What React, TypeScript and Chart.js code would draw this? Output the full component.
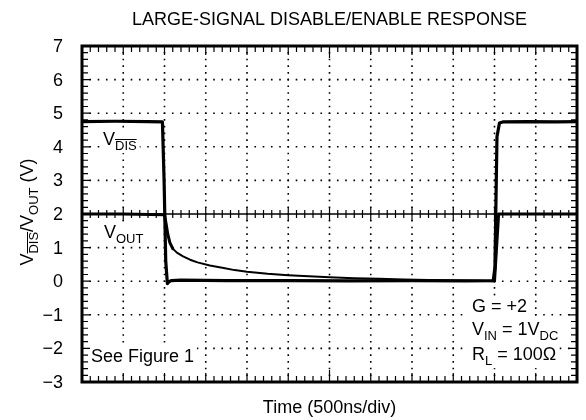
import React, { useEffect, useRef } from 'react';
import { Chart, registerables } from 'chart.js';

Chart.register(...registerables);

const TITLE = 'LARGE-SIGNAL DISABLE/ENABLE RESPONSE';
const X_LABEL = 'Time (500ns/div)';
const Y_TICK_VALUES = [7, 6, 5, 4, 3, 2, 1, 0, -1, -2, -3];
const Y_TICK_LABELS = ['7', '6', '5', '4', '3', '2', '1', '0', '\u22121', '\u22122', '\u22123'];
const X_DIVISIONS = [0, 1, 2, 3, 4, 5, 6, 7, 8, 9, 10, 11, 12];
const X_MIN = 0;
const X_MAX = 12;
const Y_MIN = -3;
const Y_MAX = 7;
const CENTER_Y = 2;
const CENTER_X = 6;

// V_DIS trace (time in divisions, volts)
const vdisTime = [0, 0.8, 1.6, 1.95, 1.99, 2.03, 2.07, 2.1, 2.16, 2.4, 3.5, 5, 6.5, 8, 9.3, 9.97, 10.01, 10.06, 10.12, 10.2, 10.8, 11.5, 12];
const vdisVolts = [4.75, 4.76, 4.75, 4.74, 3.0, 0.6, -0.07, -0.03, 0.02, 0.03, 0.02, 0.02, 0.01, 0.02, 0.01, 0.02, 0.4, 4.3, 4.71, 4.74, 4.75, 4.74, 4.75];

// V_OUT trace (time in divisions, volts)
const voutTime = [0, 1.0, 2.0, 2.04, 2.08, 2.13, 2.2, 2.3, 2.45, 2.62, 2.8, 3.1, 3.4, 3.7, 4.0, 4.5, 5.0, 5.5, 6.0, 6.6, 7.2, 7.8, 8.4, 9.0, 9.6, 10.0, 10.05, 10.1, 11, 12];
const voutVolts = [2.0, 2.0, 1.98, 1.7, 1.4, 1.15, 0.97, 0.85, 0.74, 0.64, 0.56, 0.47, 0.4, 0.33, 0.28, 0.22, 0.18, 0.15, 0.12, 0.09, 0.07, 0.05, 0.035, 0.02, 0.01, 0.0, 1.0, 2.0, 2.0, 2.0];

const FONT = '"Liberation Sans", Arial, Helvetica, sans-serif';
const FS = 18;

type Seg = { t: string; sub?: boolean; over?: boolean };

function drawRich(ctx: CanvasRenderingContext2D, segs: Seg[], x: number, y: number, size: number, align: 'left' | 'center', bg = false) {
  const subSize = Math.round(size * 0.72);
  let total = 0;
  for (const s of segs) {
    ctx.font = `${s.sub ? subSize : size}px ${FONT}`;
    total += ctx.measureText(s.t).width;
  }
  let cx = align === 'center' ? x - total / 2 : x;
  if (bg) {
    ctx.save();
    ctx.fillStyle = '#fff';
    ctx.fillRect(cx - 3, y - size * 0.9, total + 6, size * 1.35);
    ctx.restore();
  }
  ctx.textAlign = 'left';
  ctx.textBaseline = 'alphabetic';
  for (const s of segs) {
    const sz = s.sub ? subSize : size;
    ctx.font = `${sz}px ${FONT}`;
    const yy = s.sub ? y + size * 0.28 : y;
    ctx.fillText(s.t, cx, yy);
    const w = ctx.measureText(s.t).width;
    if (s.over) {
      ctx.save();
      ctx.lineWidth = 1;
      ctx.beginPath();
      const oy = Math.round(yy - sz * 0.86) + 0.5;
      ctx.moveTo(cx, oy);
      ctx.lineTo(cx + w, oy);
      ctx.stroke();
      ctx.restore();
    }
    cx += w;
  }
}

const graticule = {
  id: 'graticule',
  beforeDatasetsDraw(chart: any) {
    const ctx: CanvasRenderingContext2D = chart.ctx;
    const xs = chart.scales.x;
    const ys = chart.scales.y;
    const { left, right, top, bottom } = chart.chartArea;
    const divW = xs.getPixelForValue(1) - xs.getPixelForValue(0);
    const divH = ys.getPixelForValue(0) - ys.getPixelForValue(1);
    ctx.save();
    ctx.strokeStyle = '#000';
    ctx.lineWidth = 1.6;
    const hStep = divW / 5;
    ctx.setLineDash([1.6, hStep - 1.6]);
    for (const v of Y_TICK_VALUES) {
      if (v === Y_MIN || v === Y_MAX || v === CENTER_Y) continue;
      const py = ys.getPixelForValue(v);
      ctx.beginPath();
      ctx.moveTo(left - 0.8, py);
      ctx.lineTo(right, py);
      ctx.stroke();
    }
    const vStep = divH / 5;
    ctx.setLineDash([1.6, vStep - 1.6]);
    for (const d of X_DIVISIONS) {
      if (d === X_MIN || d === X_MAX) continue;
      const px = xs.getPixelForValue(d);
      ctx.beginPath();
      ctx.moveTo(px, top - 0.8);
      ctx.lineTo(px, bottom);
      ctx.stroke();
    }
    ctx.setLineDash([]);
    const cy = ys.getPixelForValue(CENTER_Y);
    ctx.lineWidth = 1.5;
    ctx.beginPath();
    ctx.moveTo(left, cy);
    ctx.lineTo(right, cy);
    ctx.stroke();
    ctx.lineWidth = 1.2;
    for (let i = 0; i <= (X_MAX - X_MIN) * 5; i++) {
      const px = xs.getPixelForValue(X_MIN + i / 5);
      const major = i % 5 === 0;
      const len = major ? 7 : 4;
      ctx.beginPath();
      ctx.moveTo(px, cy - len);
      ctx.lineTo(px, cy + len);
      ctx.stroke();
    }
    ctx.restore();
  },
  afterDatasetsDraw(chart: any) {
    const ctx: CanvasRenderingContext2D = chart.ctx;
    const xs = chart.scales.x;
    const ys = chart.scales.y;
    const { left, right, top, bottom } = chart.chartArea;
    ctx.save();
    ctx.strokeStyle = '#000';
    ctx.fillStyle = '#000';

    // annotations (with white background, drawn before frame ticks)
    drawRich(ctx, [{ t: 'V' }, { t: 'DIS', sub: true, over: true }], 103, 145, FS, 'left', true);
    drawRich(ctx, [{ t: 'V' }, { t: 'OUT', sub: true }], 104, 238, FS, 'left', true);
    drawRich(ctx, [{ t: 'See Figure 1' }], 91, 362, FS, 'left', true);
    drawRich(ctx, [{ t: 'G = +2' }], 472, 312, FS, 'left', true);
    drawRich(ctx, [{ t: 'V' }, { t: 'IN', sub: true }, { t: ' = 1V' }, { t: 'DC', sub: true }], 472, 335, FS, 'left', true);
    drawRich(ctx, [{ t: 'R' }, { t: 'L', sub: true }, { t: ' = 100\u03A9' }], 472, 360, FS, 'left', true);

    // frame ticks
    ctx.lineWidth = 1.2;
    for (let i = 1; i < (X_MAX - X_MIN) * 5; i++) {
      const v = X_MIN + i / 5;
      const px = xs.getPixelForValue(v);
      const major = i % 5 === 0;
      const len = Math.abs(v - CENTER_X) < 1e-6 ? 12 : major ? 9 : 6;
      ctx.beginPath();
      ctx.moveTo(px, top);
      ctx.lineTo(px, top + len);
      ctx.moveTo(px, bottom);
      ctx.lineTo(px, bottom - len);
      ctx.stroke();
    }
    for (let i = 1; i < (Y_MAX - Y_MIN) * 5; i++) {
      const v = Y_MIN + i / 5;
      const py = ys.getPixelForValue(v);
      const major = i % 5 === 0;
      const len = Math.abs(v - CENTER_Y) < 1e-6 ? 12 : major ? 8 : 6;
      ctx.beginPath();
      ctx.moveTo(left, py);
      ctx.lineTo(left + len, py);
      ctx.moveTo(right, py);
      ctx.lineTo(right - len, py);
      ctx.stroke();
    }
    ctx.lineWidth = 3;
    ctx.strokeRect(left, top, right - left, bottom - top);

    // y tick labels
    ctx.font = `${FS}px ${FONT}`;
    ctx.textAlign = 'right';
    ctx.textBaseline = 'middle';
    Y_TICK_VALUES.forEach((v, i) => {
      ctx.fillText(Y_TICK_LABELS[i], left - 19, ys.getPixelForValue(v) + 1);
    });

    // title and x label
    ctx.textAlign = 'center';
    ctx.textBaseline = 'alphabetic';
    ctx.font = `${FS}px ${FONT}`;
    ctx.fillText(TITLE, (left + right) / 2, 25);
    ctx.fillText(X_LABEL, (left + right) / 2, 413);

    // y label
    ctx.save();
    ctx.translate(33, (top + bottom) / 2 - 2);
    ctx.rotate(-Math.PI / 2);
    drawRich(ctx, [
      { t: 'V' }, { t: 'DIS', sub: true, over: true }, { t: '/V' }, { t: 'OUT', sub: true }, { t: ' (V)' },
    ], 0, 0, FS, 'center');
    ctx.restore();
    ctx.restore();
  },
};

export default function App() {
  const ref = useRef<HTMLCanvasElement>(null);
  useEffect(() => {
    if (!ref.current) return;
    const chart = new Chart(ref.current, {
      type: 'line',
      data: {
        datasets: [
          {
            label: 'VDIS',
            data: vdisTime.map((t, i) => ({ x: t, y: vdisVolts[i] })),
            borderColor: '#000',
            borderWidth: 3.2,
            pointRadius: 0,
            tension: 0,
            borderJoinStyle: 'round',
            borderCapStyle: 'round',
          },
          {
            label: 'VOUT',
            data: voutTime.map((t, i) => ({ x: t, y: voutVolts[i] })),
            borderColor: '#000',
            borderWidth: 3,
            pointRadius: 0,
            tension: 0,
            borderJoinStyle: 'round',
            borderCapStyle: 'round',
            segment: {
              borderWidth: (c: any) => (c.p0.parsed.x >= 2.2 && c.p1.parsed.x <= 10.0 ? 2 : 3),
            },
          },
        ],
      },
      options: {
        animation: false,
        responsive: false,
        devicePixelRatio: 1,
        layout: { padding: { left: 82, top: 46, right: 9, bottom: 38 } },
        plugins: { legend: { display: false }, title: { display: false }, tooltip: { enabled: false } },
        scales: {
          x: { type: 'linear', min: X_MIN, max: X_MAX, display: false },
          y: { type: 'linear', min: Y_MIN, max: Y_MAX, display: false },
        },
      },
      plugins: [graticule],
    } as any);
    return () => chart.destroy();
  }, []);
  return (
    <div style={{ position: 'fixed', left: 0, top: 0, width: 586, height: 420, background: '#fff' }}>
      <canvas ref={ref} width={586} height={420} style={{ width: 586, height: 420 }} />
    </div>
  );
}
